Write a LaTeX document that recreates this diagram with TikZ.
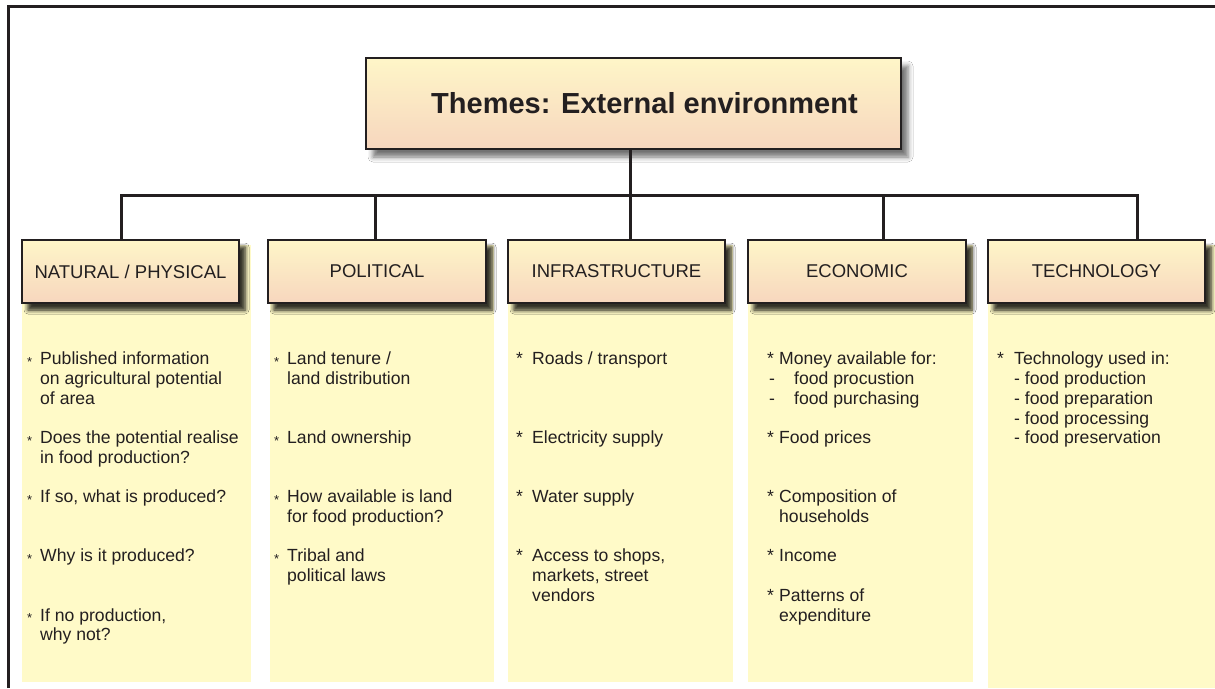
\documentclass[tikz,border=0pt]{standalone}
\usepackage{fontspec}
\setmainfont{Liberation Sans}
\usetikzlibrary{positioning, calc, shadows.blur}

\definecolor{inkline}{HTML}{231F20}
\definecolor{boxtop}{HTML}{FEF6C8}
\definecolor{boxbot}{HTML}{F7D6BE}
\definecolor{panelfill}{HTML}{FFFAC8}

\newcommand{\sst}{\makebox[13pt][l]{\raisebox{-1.5pt}{\fontsize{13}{13}\selectfont *}}}
\newcommand{\bst}[1]{\makebox[#1][l]{*}}
\newcommand{\ind}[1]{\hspace*{#1}}

\begin{document}
\begin{tikzpicture}[x=1pt, y=-1pt,
	link/.style={draw=inkline, line width=3pt},
	themebox/.style={draw=inkline, line width=1.2pt, top color=boxtop, bottom color=boxbot, text=inkline,
		blur shadow={shadow xshift=7pt, shadow yshift=-8pt, shadow blur radius=5pt, shadow opacity=55}},
	catbox/.style={themebox, minimum height=63pt, font=\fontsize{18.5}{20}\selectfont,
		blur shadow={shadow xshift=6pt, shadow yshift=-7pt, shadow blur radius=4pt, shadow opacity=55}},
	panel/.style={fill=panelfill, anchor=north west, inner sep=0pt},
	itemtxt/.style={anchor=north west, inner sep=0pt, align=left, text=inkline, font=\fontsize{17.6}{19.7}\selectfont}]

	\useasboundingbox (0,0) rectangle (1215,688);
	\fill[white] (0,0) rectangle (1215,688);

	%frame
	\draw[inkline, line width=3pt] (8,688) -- (8,6) -- (1215,6);

	%panels
	\node[panel, minimum width=229pt, minimum height=437pt] (natP)   at (22,245)  {};
	\node[panel, minimum width=224pt, minimum height=437pt] (polP)   at (270,245) {};
	\node[panel, minimum width=225pt, minimum height=437pt] (infP)   at (508,245) {};
	\node[panel, minimum width=225pt, minimum height=437pt] (ecoP)   at (748,245) {};
	\node[panel, minimum width=227pt, minimum height=443pt] (tecP)   at (988,245) {};

	%boxes
	\node[themebox, minimum width=535pt, minimum height=91pt, font=\bfseries\fontsize{29}{32}\selectfont]
		(title) at (633.5,103.5) {\hspace*{22pt}Themes: External environment};
	\node[catbox, minimum width=217pt] (nat)   at (130.5,271.5) {NATURAL / PHYSICAL};
	\node[catbox, minimum width=218pt] (pol)   at (377,271.5)   {POLITICAL};
	\node[catbox, minimum width=217pt] (inf)   at (616.5,271.5) {INFRASTRUCTURE};
	\node[catbox, minimum width=218pt] (eco)   at (857,271.5)   {ECONOMIC};
	\node[catbox, minimum width=217pt] (tec)   at (1096.5,271.5) {TECHNOLOGY};

	%tree lines
	\coordinate (hub) at (630,195);
	\coordinate (d1)  at (121,195);
	\coordinate (d2)  at (375,195);
	\coordinate (d4)  at (883,195);
	\coordinate (d5)  at (1137,195);
	\draw[link] (title.south -| hub) -- (hub);
	\draw[link] (d1 |- nat.north) -- (d1) -- (d5) -- (d5 |- tec.north);
	\draw[link] (d2) -- (d2 |- pol.north);
	\draw[link] (hub) -- (hub |- inf.north);
	\draw[link] (d4) -- (d4 |- eco.north);

	%texts
	\node[itemtxt] (natT) at (27,351) {\strut\sst Published information\\
		\ind{13pt}on agricultural potential\\
		\ind{13pt}of area\\[19.7pt]
		\sst Does the potential realise\\
		\ind{13pt}in food production?\\[19.7pt]
		\sst If so, what is produced?\\[39.4pt]
		\sst Why is it produced?\\[39.4pt]
		\sst If no production,\\
		\ind{13pt}why not?};
	\node[itemtxt] (polT) at (274,351) {\strut\sst Land tenure /\\
		\ind{13pt}land distribution\\[39.4pt]
		\sst Land ownership\\[39.4pt]
		\sst How available is land\\
		\ind{13pt}for food production?\\[19.7pt]
		\sst Tribal and\\
		\ind{13pt}political laws};
	\node[itemtxt] (infT) at (516,351) {\strut\bst{16pt}Roads / transport\\[59.1pt]
		\bst{16pt}Electricity supply\\[39.4pt]
		\bst{16pt}Water supply\\[39.4pt]
		\bst{16pt}Access to shops,\\
		\ind{16pt}markets, street\\
		\ind{16pt}vendors};
	\node[itemtxt] (ecoT) at (767,351) {\strut\bst{12pt}Money available for:\\
		\makebox[27pt][l]{\ind{2pt}-}food procustion\\
		\makebox[27pt][l]{\ind{2pt}-}food purchasing\\[19.7pt]
		\bst{12pt}Food prices\\[39.4pt]
		\bst{12pt}Composition of\\
		\ind{12pt}households\\[19.7pt]
		\bst{12pt}Income\\[19.7pt]
		\bst{12pt}Patterns of\\
		\ind{12pt}expenditure};
	\node[itemtxt] (tecT) at (997,351) {\strut\bst{17pt}Technology used in:\\
		\ind{17pt}- food production\\
		\ind{17pt}- food preparation\\
		\ind{17pt}- food processing\\
		\ind{17pt}- food preservation};
\end{tikzpicture}
\end{document}
